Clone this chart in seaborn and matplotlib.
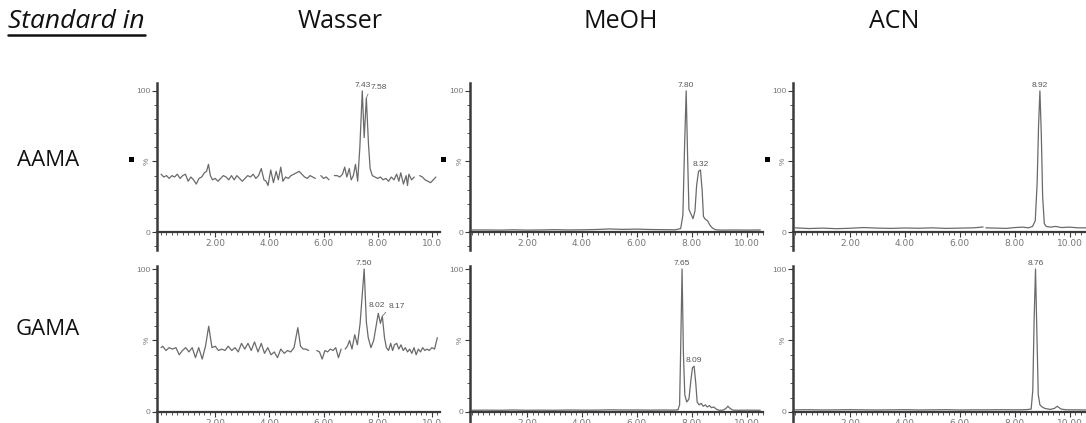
import numpy as np
import pandas as pd
import matplotlib
matplotlib.use("Agg")
import matplotlib.pyplot as plt
import seaborn as sns
from matplotlib.patches import Rectangle
from matplotlib.lines import Line2D
from matplotlib.ticker import MultipleLocator

sns.set_theme(style="white")
plt.rcParams["font.family"] = ["Open Sans", "DejaVu Sans"]

nan = np.nan

solvents = ["Wasser", "MeOH", "ACN"]
analytes = ["AAMA", "GAMA"]
header = "Standard in"

# ---- AAMA traces (retention time in min, relative intensity in %) ----
aama_wasser_t = [0.00, 0.10, 0.20, 0.30, 0.40, 0.50, 0.60, 0.70, 0.80, 0.90, 1.00, 1.10,
                 1.20, 1.30, 1.40, 1.50, 1.60, 1.68, 1.75, 1.82, 1.90, 2.00, 2.10, 2.20,
                 2.30, 2.40, 2.50, 2.60, 2.70, 2.80, 2.90, 3.00, 3.10, 3.20, 3.30, 3.40,
                 3.50, 3.60, 3.70, 3.80, 3.88, 3.95, 4.05, 4.15, 4.25, 4.33, 4.42, 4.50,
                 4.60, 4.70, 4.80, 4.90, 5.00, 5.10, 5.20, 5.30, 5.40, 5.50, 5.60, 5.70,
                 5.80, 5.90, 6.00, 6.10, 6.20, 6.30, 6.40, 6.50, 6.60, 6.70, 6.78, 6.86,
                 6.95, 7.02, 7.10, 7.18, 7.26, 7.34, 7.43, 7.50, 7.58, 7.66, 7.72, 7.80,
                 7.90, 8.00, 8.10, 8.20, 8.30, 8.40, 8.50, 8.60, 8.70, 8.78, 8.85, 8.95,
                 9.05, 9.10, 9.15, 9.25, 9.35, 9.45, 9.55, 9.65, 9.75, 9.85, 9.95, 10.05,
                 10.15]
aama_wasser_i = [41, 39, 40, 38, 40, 39, 41, 38, 40, 41, 36, 39,
                 37, 34, 38, 39, 42, 43, 48, 40, 37, 38, 36, 38,
                 40, 39, 37, 40, 37, 40, 38, 36, 38, 40, 39, 41,
                 38, 40, 45, 37, 36, 33, 44, 35, 43, 37, 46, 36,
                 39, 38, 40, 41, 42, 43, 41, 39, 38, 40, 39, 38,
                 nan, 40, 38, 39, 37, nan, 40, 40, 39, 41, 46, 39,
                 45, 37, 40, 48, 36, 60, 100, 67, 95, 62, 45, 40,
                 39, 38, 39, 37, 38, 36, 39, 37, 41, 36, 42, 34,
                 40, 33, 41, 37, 39, nan, 40, 39, 37, 36, 35, 37,
                 39]

aama_meoh_t = [0.0, 0.5, 1.0, 1.5, 2.0, 2.5, 3.0, 3.5, 4.0, 4.5, 5.0, 5.5, 6.0, 6.5, 7.0,
               7.4, 7.6, 7.68, 7.74, 7.80, 7.85, 7.90, 7.97, 8.05, 8.12, 8.18, 8.25, 8.32,
               8.38, 8.43, 8.50, 8.58, 8.66, 8.75, 8.85, 8.95, 9.2, 9.5, 10.0, 10.5]
aama_meoh_i = [1.5, 1.5, 1.4, 1.6, 1.4, 1.5, 1.7, 1.5, 1.6, 1.8, 2.2, 1.9, 2.1, 1.8, 1.7,
               1.6, 2.5, 12, 60, 100, 55, 16, 13, 9.5, 15, 33, 43, 44,
               30, 11, 9, 8, 5, 3, 1.8, 1.5, 1.4, 1.5, 1.4, 1.5]

aama_acn_t = [0.0, 0.5, 1.0, 1.5, 2.0, 2.5, 3.0, 3.5, 4.0, 4.5, 5.0, 5.5, 6.0, 6.5,
              6.85, 6.9, 6.95, 7.3, 7.7, 8.0, 8.3, 8.5, 8.65, 8.75, 8.82, 8.87, 8.92,
              8.97, 9.02, 9.08, 9.15, 9.3, 9.5, 9.7, 10.0, 10.3, 10.6]
aama_acn_i = [3.0, 2.5, 2.8, 2.4, 2.7, 3.2, 2.8, 2.6, 2.9, 2.7, 3.0, 2.6, 2.8, 3.0,
              3.6, nan, 3.0, 2.8, 2.6, 3.2, 3.5, 3.0, 4, 8, 35, 75, 100,
              70, 25, 6, 4, 3.5, 4, 3.2, 3.5, 3.0, 3.0]

# ---- GAMA traces ----
gama_wasser_t = [0.00, 0.06, 0.18, 0.30, 0.42, 0.55, 0.67, 0.79, 0.91, 1.03, 1.15, 1.27,
                 1.39, 1.52, 1.64, 1.76, 1.88, 2.00, 2.12, 2.24, 2.36, 2.48, 2.61, 2.73,
                 2.85, 2.97, 3.09, 3.21, 3.33, 3.45, 3.58, 3.70, 3.82, 3.94, 4.06, 4.18,
                 4.30, 4.42, 4.55, 4.67, 4.79, 4.91, 5.05, 5.15, 5.25, 5.35, 5.45, 5.60,
                 5.75, 5.85, 5.95, 6.05, 6.15, 6.25, 6.35, 6.45, 6.55, 6.65, 6.72, 6.80,
                 6.88, 6.96, 7.05, 7.15, 7.25, 7.35, 7.50, 7.58, 7.65, 7.75, 7.85, 7.94,
                 8.02, 8.10, 8.17, 8.25, 8.32, 8.40, 8.48, 8.55, 8.62, 8.70, 8.78, 8.86,
                 8.94, 9.02, 9.10, 9.18, 9.26, 9.34, 9.42, 9.50, 9.58, 9.66, 9.74, 9.82,
                 9.90, 10.00, 10.10, 10.20]
gama_wasser_i = [45, 46, 43, 45, 44, 45, 40, 43, 45, 42, 45, 38,
                 45, 37, 46, 60, 45, 46, 43, 44, 43, 46, 43, 45,
                 42, 48, 44, 48, 43, 49, 42, 48, 41, 45, 40, 42,
                 38, 44, 41, 43, 42, 45, 59, 46, 44, 44, 43, nan,
                 43, 42, 37, 43, 42, 44, 43, 45, 38, 44, nan, 44,
                 46, 50, 44, 54, 47, 62, 100, 63, 52, 45, 50, 60,
                 69, 62, 67, 52, 45, 43, 48, 43, 47, 48, 44, 47,
                 43, 45, 42, 44, 41, 45, 40, 44, 42, 45, 43, 44,
                 43, 45, 44, 52]

gama_meoh_t = [0.0, 0.5, 1.0, 1.5, 2.0, 2.5, 3.0, 3.5, 4.0, 4.5, 5.0, 5.5, 6.0, 6.5, 7.0,
               7.3, 7.5, 7.56, 7.60, 7.65, 7.70, 7.75, 7.82, 7.90, 7.97, 8.03, 8.09, 8.15,
               8.20, 8.27, 8.35, 8.42, 8.50, 8.57, 8.65, 8.72, 8.80, 8.90, 9.00, 9.15,
               9.25, 9.32, 9.40, 9.50, 9.70, 10.0, 10.5]
gama_meoh_i = [1.2, 1.3, 1.2, 1.4, 1.2, 1.3, 1.2, 1.4, 1.3, 1.3, 1.5, 1.4, 1.4, 1.3, 1.4,
               1.3, 1.5, 5, 45, 100, 40, 12, 7, 9, 22, 31, 32, 20,
               7, 5, 6, 4, 5, 3.5, 4.5, 3, 3.5, 2, 1.2, 1.3,
               2.5, 4, 2.5, 1.3, 1.2, 1.3, 1.2]

gama_acn_t = [0.0, 0.5, 1.0, 1.5, 2.0, 2.5, 3.0, 3.5, 4.0, 4.5, 5.0, 5.5, 6.0, 6.5, 7.0,
              7.5, 8.0, 8.4, 8.6, 8.66, 8.71, 8.76, 8.81, 8.86, 8.92, 9.0, 9.1, 9.3,
              9.45, 9.55, 9.62, 9.7, 9.85, 10.0, 10.3, 10.6]
gama_acn_i = [1.5, 1.6, 1.4, 1.5, 1.6, 1.5, 1.4, 1.5, 1.6, 1.4, 1.5, 1.6, 1.4, 1.5, 1.5,
              1.6, 1.5, 1.6, 2.0, 15, 65, 100, 55, 12, 5, 3.5, 2.5, 1.8,
              2.5, 4.0, 3.0, 2.0, 1.6, 1.5, 1.5, 1.4]

# labelled peak retention times per panel
aama_wasser_peaks = [7.43, 7.58]
aama_meoh_peaks = [7.80, 8.32]
aama_acn_peaks = [8.92]
gama_wasser_peaks = [7.50, 8.02, 8.17]
gama_meoh_peaks = [7.65, 8.09]
gama_acn_peaks = [8.76]

traces = {
    ("AAMA", "Wasser"): (aama_wasser_t, aama_wasser_i, aama_wasser_peaks),
    ("AAMA", "MeOH"): (aama_meoh_t, aama_meoh_i, aama_meoh_peaks),
    ("AAMA", "ACN"): (aama_acn_t, aama_acn_i, aama_acn_peaks),
    ("GAMA", "Wasser"): (gama_wasser_t, gama_wasser_i, gama_wasser_peaks),
    ("GAMA", "MeOH"): (gama_meoh_t, gama_meoh_i, gama_meoh_peaks),
    ("GAMA", "ACN"): (gama_acn_t, gama_acn_i, gama_acn_peaks),
}

# label offsets (min, %) for crowded peaks
label_shift = {
    ("AAMA", "Wasser", 7.58): (0.45, 5),
    ("GAMA", "Wasser", 8.17): (0.55, 4),
    ("GAMA", "Wasser", 8.02): (-0.05, 3),
}

W, H = 1086, 423
fig = plt.figure(figsize=(W / 100, H / 100), dpi=100)
fig.patch.set_facecolor("white")

col_px = {"Wasser": (157, 440), "MeOH": (470, 763), "ACN": (793, 1086)}
col_xlim = {"Wasser": (-0.15, 10.3), "MeOH": (-0.08, 10.6), "ACN": (-0.08, 10.6)}
row_px = {"AAMA": (83, 250), "GAMA": (266, 423)}
row_ylim = {"AAMA": (-12.7, 105.6), "GAMA": (-7.7, 102.1)}

line_col = "#6a6a6a"
axis_col = "#3a3a3a"
tick_col = "#777777"

for an in analytes:
    for sv in solvents:
        x0, x1 = col_px[sv]
        y0, y1 = row_px[an]
        ax = fig.add_axes([x0 / W, 1 - y1 / H, (x1 - x0) / W, (y1 - y0) / H])
        ax.set_facecolor("none")
        t, inten, peaks = traces[(an, sv)]
        inten = np.asarray(inten, dtype=float)
        seg = np.cumsum(np.isnan(inten))
        df = pd.DataFrame({"t": t, "i": inten, "seg": seg}).dropna()
        sns.lineplot(data=df, x="t", y="i", units="seg", estimator=None,
                     color=line_col, linewidth=0.9, ax=ax, legend=False)
        ax.set_xlim(*col_xlim[sv])
        ax.set_ylim(*row_ylim[an])
        ax.set_xlabel("")
        ax.set_ylabel("")
        for s in ("top", "right"):
            ax.spines[s].set_visible(False)
        ax.spines["bottom"].set_position(("data", 0))
        ax.spines["bottom"].set_color(axis_col)
        ax.spines["bottom"].set_linewidth(1.6)
        ax.spines["left"].set_color(axis_col)
        ax.spines["left"].set_linewidth(1.8)

        xt = [2, 4, 6, 8, 10]
        ax.set_xticks(xt)
        last = "10.0" if sv == "Wasser" else "10.00"
        ax.set_xticklabels(["2.00", "4.00", "6.00", "8.00", last])
        ax.xaxis.set_minor_locator(MultipleLocator(0.2))
        ax.tick_params(axis="x", which="major", direction="out", length=3.5, width=0.8,
                       color=axis_col, labelsize=6.5, labelcolor=tick_col, pad=1.5,
                       bottom=True)
        ax.tick_params(axis="x", which="minor", direction="out", length=2, width=0.6,
                       color=axis_col, bottom=True)
        for lab in ax.get_xticklabels():
            lab.set_fontfamily("DejaVu Sans")

        ax.set_yticks([0, 50, 100])
        ax.set_yticklabels(["0", "%", "100"])
        ax.yaxis.set_minor_locator(MultipleLocator(10))
        ax.tick_params(axis="y", which="major", direction="out", length=3.5, width=0.8,
                       color=axis_col, labelsize=6, labelcolor=tick_col, pad=1,
                       left=True)
        ax.tick_params(axis="y", which="minor", direction="out", length=2, width=0.6,
                       color=axis_col, left=True)
        ylabs = ax.get_yticklabels()
        for lab in ylabs:
            lab.set_fontfamily("Liberation Sans")
        ylabs[1].set_rotation(90)
        ylabs[1].set_va("center")

        # peak annotations
        tt = np.asarray(t, dtype=float)
        for p in peaks:
            k = int(np.argmin(np.abs(tt - p)))
            pv = inten[k]
            dx, dy = label_shift.get((an, sv, p), (0.0, 1.5))
            if abs(dx) > 0.2:
                ax.annotate(f"{p:.2f}", xy=(p, pv), xytext=(p + dx, pv + dy),
                            ha="center", va="bottom", fontsize=6,
                            family="Liberation Sans", color="#555555",
                            arrowprops=dict(arrowstyle="-", color="#777777", lw=0.6,
                                            shrinkA=0, shrinkB=0,
                                            relpos=(0.0, 0.3)))
            else:
                ax.text(p + dx, pv + dy, f"{p:.2f}", ha="center", va="bottom",
                        fontsize=6, family="Liberation Sans", color="#555555")

# column and row headers
for sv, cx in zip(solvents, [340, 621, 894]):
    fig.text(cx / W, 1 - 22 / H, sv, ha="center", va="center", fontsize=18,
             color="#111111")
for an, cy in zip(analytes, [160, 329]):
    fig.text(48 / W, 1 - cy / H, an, ha="center", va="center", fontsize=16,
             color="#111111")
ht = fig.text(8 / W, 1 - 22 / H, header, ha="left", va="center", fontsize=19,
              style="italic", color="#111111")
fig.canvas.draw()
bb = ht.get_window_extent(renderer=fig.canvas.get_renderer())
uy = (bb.y0 - 1) / H
fig.add_artist(Line2D([bb.x0 / W, bb.x1 / W], [uy, uy], transform=fig.transFigure,
                      color="#111111", linewidth=1.8))

# small black markers beside the top row
for mx in [131, 443, 767]:
    fig.add_artist(Rectangle(((mx - 2.5) / W, 1 - (160 + 2.5) / H), 5 / W, 5 / H,
                             transform=fig.transFigure, facecolor="black",
                             edgecolor="none"))

fig.savefig("out.png", dpi=100, facecolor="white")
